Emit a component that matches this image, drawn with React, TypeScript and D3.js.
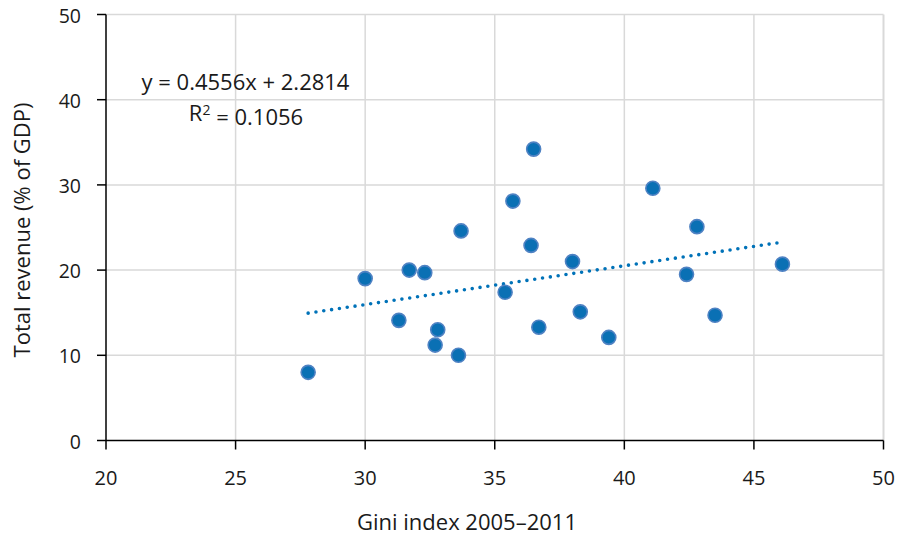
import React from 'react';
import * as d3 from 'd3';

// Gini index vs total revenue, one point per country
const gini = [27.8, 30.0, 31.7, 32.3, 31.3, 32.8, 32.7, 33.6, 33.7, 35.7, 36.5, 36.4, 35.4, 36.7, 38.0, 38.3, 39.4, 41.1, 42.8, 42.4, 43.5, 46.1];
const revenue = [8.0, 19.0, 20.0, 19.7, 14.1, 13.0, 11.2, 10.0, 24.6, 28.1, 34.2, 22.9, 17.4, 13.3, 21.0, 15.1, 12.1, 29.6, 25.1, 19.5, 14.7, 20.7];

const xTicks = [20, 25, 30, 35, 40, 45, 50];
const yTicks = [0, 10, 20, 30, 40, 50];

const slope = 0.4556;
const intercept = 2.2814;
const eqLabel = 'y = 0.4556x + 2.2814';
const r2Value = '0.1056';

const width = 904;
const height = 537;
const font = '"Open Sans", "Noto Sans", sans-serif';

const App = () => {
    const x = d3.scaleLinear().domain([20, 50]).range([106, 883.5]);
    const y = d3.scaleLinear().domain([0, 50]).range([440.5, 14.5]);

    const xMin = d3.min(gini) as number;
    const xMax = d3.max(gini) as number;
    const trend = d3.line<number>()
        .x(d => x(d))
        .y(d => y(slope * d + intercept));

    return (
        <svg width={width} height={height} style={{ position: 'absolute', left: 0, top: 0 }} fontFamily={font}>
            <rect width={width} height={height} fill="#ffffff" />
            {/* grid */}
            {yTicks.filter(t => t > 0).map(t => (
                <line key={'gy' + t} x1={x(20)} x2={x(50)} y1={y(t)} y2={y(t)} stroke="#d9d9d9" strokeWidth={1.5} />
            ))}
            {xTicks.filter(t => t > 20).map(t => (
                <line key={'gx' + t} x1={x(t)} x2={x(t)} y1={y(0)} y2={y(50)} stroke="#d9d9d9" strokeWidth={t === 50 ? 2 : 1.5} />
            ))}

            {/* axes */}
            <line x1={x(20)} x2={x(20)} y1={y(50)} y2={y(0)} stroke="#000" strokeWidth={1.5} />
            <line x1={x(20)} x2={x(50)} y1={y(0)} y2={y(0)} stroke="#000" strokeWidth={1.5} />
            {yTicks.map(t => (
                <g key={'yt' + t}>
                    <line x1={x(20) - 9} x2={x(20)} y1={y(t)} y2={y(t)} stroke="#000" strokeWidth={1.5} />
                    <text x={81} y={y(t) + 8} textAnchor="end" fontSize={19.5} fill="#1a1a1a">{t}</text>
                </g>
            ))}
            {xTicks.map(t => (
                <g key={'xt' + t}>
                    <line x1={x(t)} x2={x(t)} y1={y(0)} y2={y(0) + 9} stroke="#000" strokeWidth={1.5} />
                    <text x={x(t)} y={485} textAnchor="middle" fontSize={20} fill="#1a1a1a">{t}</text>
                </g>
            ))}

            {/* axis titles */}
            <text x={467} y={530} textAnchor="middle" fontSize={22} fill="#1a1a1a">Gini index 2005–2011</text>
            <text transform={`translate(30,230) rotate(-90)`} textAnchor="middle" fontSize={22} fill="#1a1a1a">Total revenue (% of GDP)</text>

            {/* trend line */}
            <path d={trend([xMin, xMax]) || ''} fill="none" stroke="#0072b8" strokeWidth={3.6}
                strokeLinecap="round" strokeDasharray="0 7.9" />

            {/* points */}
            {gini.map((g, i) => (
                <circle key={i} cx={x(g)} cy={y(revenue[i])} r={7} fill="#0a70b4" stroke="#4f82c3" strokeWidth={1.6} />
            ))}

            {/* regression label */}
            <text x={245.5} y={90} textAnchor="middle" fontSize={22} fill="#1a1a1a">{eqLabel}</text>
            <text x={246} y={121} textAnchor="middle" fontSize={22} fill="#1a1a1a">
                R<tspan dy="-0.45em" fontSize={14}>2</tspan><tspan dy="0.45em"> = {r2Value}</tspan>
            </text>
        </svg>
    );
};

export default App;
